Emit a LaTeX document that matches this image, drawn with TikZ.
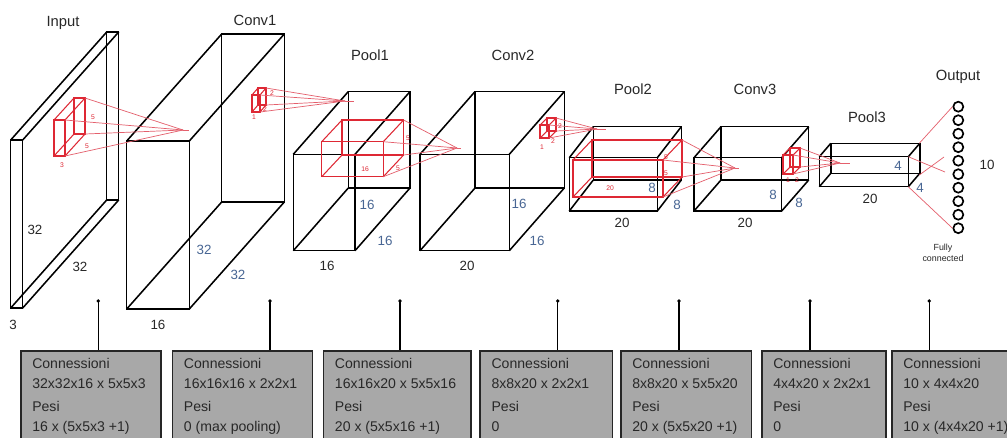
\documentclass[tikz,border=0pt]{standalone}
\usepackage{fontspec}
\setmainfont{Liberation Sans}
\usetikzlibrary{positioning,calc}
\definecolor{kernred}{RGB}{222,40,52}
\definecolor{rayred}{RGB}{228,95,108}
\definecolor{dimblue}{RGB}{72,102,148}
\definecolor{boxgray}{RGB}{168,168,168}
\definecolor{inkgray}{RGB}{40,40,40}
\tikzset{every picture/.style={line width=1.1pt}}
\tikzset{
  title/.style={font=\fontsize{10.5}{12}\selectfont, text=inkgray},
  dimlabel/.style={font=\fontsize{9.5}{11}\selectfont, text=inkgray, inner sep=1pt},
  bluedim/.style={dimlabel, text=dimblue},
  reddim/.style={font=\fontsize{4.8}{5}\selectfont, text=kernred, inner sep=0pt},
  kernel/.style={draw=kernred, line width=0.75pt},
  ray/.style={draw=rayred, line width=0.5pt},
  infobox/.style={draw=black!85, fill=boxgray, line width=1.1pt, anchor=north west,
    minimum height=2.5cm, inner sep=0pt},
  boxtext/.style={anchor=north west, align=left, inner sep=0pt, text=inkgray,
    font=\fontsize{10}{14}\selectfont},
  pin/.style={line width=0.9pt},
  neuron/.style={circle, draw, line width=1.2pt, minimum size=0.25cm, inner sep=0pt}
}
% wireframe box: [style] x, y (front top-left), w, h, dx, dy (depth)
\newcommand{\layerbox}[7][]{%
  \draw[#1] (#2,#3) rectangle ++(#4,#5);
  \draw[#1] ({#2+(#6)},{#3+(#7)}) rectangle ++(#4,#5);
  \draw[#1] (#2,#3) -- ++(#6,#7);
  \draw[#1] ({#2+(#4)},#3) -- ++(#6,#7);
  \draw[#1] (#2,{#3+(#5)}) -- ++(#6,#7);
  \draw[#1] ({#2+(#4)},{#3+(#5)}) -- ++(#6,#7);
}
% rays from the right corners of a kernel to a focus coordinate
\newcommand{\kernelrays}[7]{%
  \draw[ray] ({#1+(#3)+(#5)},{#2+(#6)}) -- (#7);
  \draw[ray] ({#1+(#3)+(#5)},{#2+(#4)+(#6)}) -- (#7);
  \draw[ray] ({#1+(#3)},{#2+(#4)}) -- (#7);
  \draw[ray] ({#1+(#3)},#2) -- (#7);
}

\begin{document}
\begin{tikzpicture}[x=0.025cm, y=-0.025cm]
    \clip (0,0) rectangle (1007,437);
    \fill[white] (0,0) rectangle (1007,437);

    % layers
    \layerbox{10.7}{140}{12}{168}{96}{-108}
    \layerbox{126.7}{141}{62.6}{168}{95}{-107}
    \layerbox{293.3}{154.3}{61.7}{96.4}{55}{-62.7}
    \layerbox{420}{154.3}{89.3}{96.4}{55}{-62.7}
    \layerbox{569.3}{157.7}{88}{53.3}{24}{-31}
    \layerbox{694}{157.7}{87.7}{53.3}{27}{-31}
    \layerbox{819.3}{156.7}{89}{30}{11.5}{-13.4}

    % focus points of the receptive fields
    \coordinate (f1) at (183,130);
    \coordinate (f2) at (345,101);
    \coordinate (f3) at (457,148);
    \coordinate (f4) at (597,129);
    \coordinate (f5) at (735,168);
    \coordinate (f6) at (840,163);
    \foreach \f/\l in {f1/6,f2/9,f3/4,f4/9,f5/4,f6/10} {
        \draw[ray] (\f) -- ++(\l,0);
    }

    % kernels
    \layerbox[kernel]{54}{120}{11}{36}{20}{-22}
    \kernelrays{54}{120}{11}{36}{20}{-22}{f1}
    \layerbox[kernel]{252}{95}{8}{17}{6}{-7}
    \kernelrays{252}{95}{8}{17}{6}{-7}{f2}
    \layerbox[kernel]{321.7}{141.7}{61.6}{35}{20.3}{-21.7}
    \kernelrays{321.7}{141.7}{61.6}{35}{20.3}{-21.7}{f3}
    \layerbox[kernel]{540}{125}{9}{13}{7}{-7}
    \kernelrays{540}{125}{9}{13}{7}{-7}{f4}
    \layerbox[kernel]{573}{160}{90}{37}{19}{-20}
    \kernelrays{573}{160}{90}{37}{19}{-20}{f5}
    \layerbox[kernel]{783}{155}{10}{19}{7}{-7}
    \kernelrays{783}{155}{10}{19}{7}{-7}{f6}

    % titles
    \node[title] (tinput) at (63,23) {Input};
    \node[title] (tconv1) at (255,20) {Conv1};
    \node[title] (tpool1) at (370,55) {Pool1};
    \node[title] (tconv2) at (513,55) {Conv2};
    \node[title] (tpool2) at (633,89) {Pool2};
    \node[title] (tconv3) at (755,89) {Conv3};
    \node[title] (tpool3) at (867,117) {Pool3};
    \node[title] (toutput) at (958,77) {Output};

    % sizes
    \foreach \n/\x/\y/\t in {a/35/230/32, b/80/267/32, c/13/325/3, d/158/325/16,
        e/327/266/16, f/467/266/20, g/622/223/20, h/745/223/20, i/870/199/20, j/987/165/10} {
        \node[dimlabel] (d\n) at (\x,\y) {\t};
    }
    \foreach \n/\x/\y/\t in {a/204/250/32, b/238/275/32, c/367/205/16, d/385/241/16,
        e/519/204/16, f/537/241/16, g/652/188/8, h/677/205/8, i/773/195/8, j/799/203/8,
        k/898/166/4, l/920/188/4} {
        \node[bluedim] (u\n) at (\x,\y) {\t};
    }
    \foreach \n/\x/\y/\t in {a/93/117/5, b/87/146/5, c/62/165/3, d/272/93/2, e/265/109/2,
        f/254/117/1, g/365/169/16, h/408/138/5, i/398/168/5, j/560/126/2, k/553/141/2,
        l/542/147/1, m/610/188/20, n/666/157/5, o/666/173/5, p/788/180/1, q/797/180/2} {
        \node[reddim] (r\n) at (\x,\y) {\t};
    }

    % output layer
    \foreach \i in {0,...,9} {
        \node[neuron] (o\i) at (958.3,106.7+13.5*\i) {};
    }
    \coordinate (fca) at (945,172);
    \coordinate (fcb) at (944,157);
    \draw[ray] (919.3,143.3) -- (o0.west);
    \draw[ray] (908.3,156.7) -- (fca);
    \draw[ray] (919.3,175) -- (fcb);
    \draw[ray] (908.3,186.7) -- (o9.west);
    \node[font=\fontsize{6.3}{8}\selectfont, text=inkgray, align=center] (fully) at (943,253) {Fully\\connected};

    % parameter boxes
    \foreach \n/\bx/\bw/\px/\ca/\cb in {
        1/20/140/98.3/{32x32x16 x 5x5x3}/{16 x (5x5x3 +1)},
        2/171.7/140/270/{16x16x16 x 2x2x1}/{0 (max pooling)},
        3/322.7/147.3/400/{16x16x20 x 5x5x16}/{20 x (5x5x16 +1)},
        4/479.3/132.4/557.7/{8x8x20 x 2x2x1}/{0},
        5/620/130.7/679/{8x8x20 x 5x5x20}/{20 x (5x5x20 +1)},
        6/761/124/810/{4x4x20 x 2x2x1}/{0},
        7/891/140/929.3/{10 x 4x4x20}/{10 x (4x4x20 +1)}} {
        \node[infobox, minimum width=\bw*0.025cm] (b\n) at (\bx,350) {};
        \node[boxtext] (t\n) at (\bx+11.5,357.5) {Connessioni\\\ca\\[2.5pt]Pesi\\\cb};
        \coordinate (p\n) at (\px,301);
        \fill (p\n) circle (1.3pt);
        \draw[pin] (p\n) -- (p\n |- b\n.north);
    }
\end{tikzpicture}
\end{document}
